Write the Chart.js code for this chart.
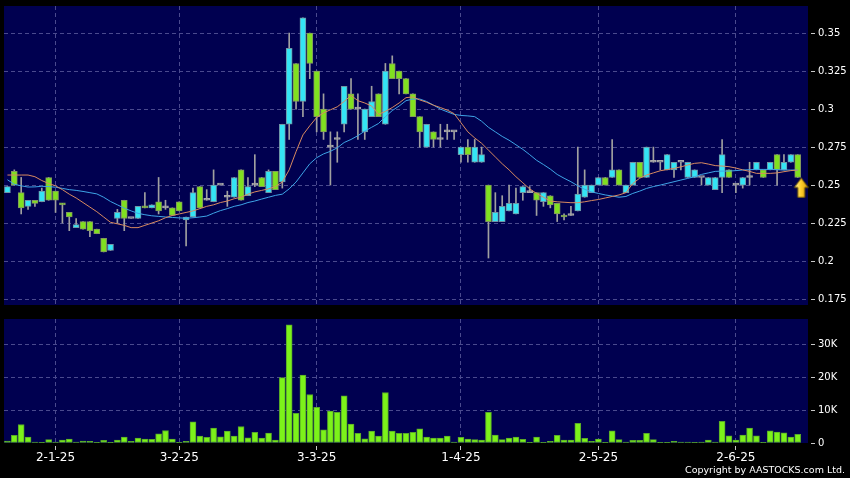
<!DOCTYPE html>
<html><head><meta charset="utf-8">
<script src="https://cdn.jsdelivr.net/npm/chart.js@4/dist/chart.umd.min.js"></script>
<style>
html,body{margin:0;padding:0;background:#000;width:850px;height:478px;overflow:hidden}
#wrap{position:relative;width:850px;height:478px;background:#000}
#p{position:absolute;left:0;top:0;width:850px;height:312px}
#v{position:absolute;left:0;top:312px;width:850px;height:166px}
#copy{position:absolute;right:5px;top:464px;color:#fff;font:9.5px "DejaVu Sans",sans-serif;line-height:12px;white-space:nowrap}
</style></head><body>
<div id="wrap">
<canvas id="p" width="850" height="312"></canvas>
<canvas id="v" width="850" height="166"></canvas>
<div id="copy">Copyright by AASTOCKS.com Ltd.</div>
</div>
<script>
// ---- data ----
const open  = [0.245,0.259,0.245,0.236,0.240,0.239,0.255,0.246,0.238,0.232,0.222,0.226,0.226,0.221,0.215,0.207,0.228,0.240,0.228,0.228,
0.236,0.235,0.239,0.235,0.235,0.239,0.227,0.229,0.249,0.240,0.239,0.250,0.242,0.242,0.260,0.243,0.250,0.255,0.245,0.259,
0.252,0.290,0.330,0.305,0.350,0.325,0.300,0.275,0.280,0.290,0.310,0.300,0.285,0.295,0.310,0.290,0.330,0.325,0.320,0.310,
0.295,0.275,0.285,0.280,0.285,0.285,0.270,0.275,0.265,0.265,0.250,0.226,0.226,0.233,0.231,0.245,0.245,0.245,0.239,0.243,
0.238,0.230,0.230,0.233,0.242,0.245,0.250,0.255,0.255,0.260,0.245,0.250,0.265,0.255,0.265,0.265,0.260,0.260,0.265,0.255,
0.255,0.255,0.250,0.247,0.255,0.260,0.250,0.250,0.255,0.260,0.260,0.260,0.270,0.260,0.265,0.270];
const high  = [0.249,0.260,0.255,0.240,0.240,0.248,0.255,0.246,0.238,0.232,0.228,0.226,0.226,0.221,0.215,0.211,0.234,0.240,0.228,0.236,
0.245,0.237,0.255,0.240,0.235,0.239,0.229,0.248,0.249,0.247,0.260,0.250,0.246,0.255,0.260,0.255,0.270,0.255,0.260,0.259,
0.290,0.350,0.330,0.360,0.350,0.325,0.310,0.285,0.285,0.315,0.320,0.310,0.300,0.315,0.310,0.330,0.335,0.325,0.320,0.310,
0.295,0.290,0.285,0.290,0.290,0.285,0.275,0.280,0.280,0.275,0.250,0.245,0.243,0.250,0.248,0.249,0.249,0.245,0.245,0.243,
0.238,0.231,0.236,0.275,0.260,0.250,0.255,0.255,0.280,0.260,0.250,0.265,0.265,0.275,0.275,0.265,0.270,0.265,0.265,0.265,
0.260,0.255,0.255,0.255,0.280,0.260,0.250,0.255,0.265,0.265,0.260,0.265,0.270,0.270,0.270,0.270];
const low   = [0.245,0.250,0.231,0.234,0.236,0.239,0.240,0.232,0.225,0.220,0.222,0.221,0.216,0.218,0.206,0.207,0.225,0.220,0.228,0.228,
0.235,0.235,0.231,0.234,0.230,0.233,0.210,0.229,0.235,0.240,0.239,0.250,0.236,0.242,0.240,0.243,0.249,0.249,0.245,0.247,
0.248,0.280,0.300,0.295,0.320,0.285,0.280,0.250,0.265,0.285,0.300,0.280,0.280,0.295,0.295,0.290,0.320,0.310,0.310,0.295,
0.275,0.275,0.275,0.275,0.280,0.280,0.265,0.265,0.265,0.265,0.202,0.226,0.226,0.233,0.231,0.240,0.245,0.230,0.236,0.235,
0.226,0.227,0.230,0.233,0.242,0.245,0.250,0.250,0.255,0.250,0.245,0.250,0.255,0.255,0.265,0.260,0.260,0.255,0.260,0.255,
0.255,0.250,0.250,0.247,0.245,0.255,0.245,0.248,0.250,0.260,0.255,0.260,0.250,0.260,0.265,0.255];
const close = [0.249,0.250,0.235,0.240,0.238,0.246,0.240,0.240,0.237,0.229,0.224,0.221,0.220,0.218,0.206,0.211,0.232,0.228,0.228,0.236,
0.235,0.237,0.233,0.235,0.230,0.233,0.229,0.245,0.235,0.240,0.250,0.250,0.242,0.255,0.240,0.249,0.250,0.249,0.259,0.247,
0.290,0.340,0.305,0.360,0.330,0.295,0.285,0.275,0.280,0.315,0.300,0.300,0.300,0.305,0.295,0.325,0.320,0.320,0.310,0.295,
0.285,0.290,0.280,0.280,0.285,0.285,0.275,0.270,0.275,0.270,0.226,0.232,0.236,0.238,0.238,0.249,0.245,0.240,0.245,0.237,
0.231,0.229,0.230,0.244,0.250,0.250,0.255,0.250,0.260,0.250,0.250,0.265,0.255,0.275,0.265,0.265,0.270,0.265,0.265,0.265,
0.260,0.255,0.255,0.255,0.270,0.255,0.250,0.255,0.255,0.265,0.255,0.265,0.260,0.265,0.270,0.255];
const maShort = [0.2566,0.2566,0.2566,0.2566,0.2555,0.2530,0.2510,0.2495,0.2470,0.2440,0.2415,0.2385,0.2355,0.2325,0.2290,0.2255,0.2245,0.2235,0.2220,0.2220,
0.2235,0.2250,0.2265,0.2285,0.2300,0.2310,0.2320,0.2330,0.2345,0.2360,0.2370,0.2385,0.2395,0.2410,0.2420,0.2440,0.2455,0.2465,0.2475,0.2490,
0.2520,0.2600,0.2720,0.2830,0.2890,0.2945,0.2975,0.2995,0.3015,0.3050,0.3090,0.3055,0.3040,0.3020,0.2965,0.2985,0.3010,0.3040,0.3075,0.3080,
0.3060,0.3045,0.3025,0.3010,0.2993,0.2970,0.2910,0.2850,0.2810,0.2775,0.2730,0.2685,0.2640,0.2600,0.2555,0.2515,0.2475,0.2445,0.2420,0.2395,
0.2390,0.2387,0.2384,0.2384,0.2390,0.2398,0.2405,0.2415,0.2425,0.2435,0.2450,0.2510,0.2545,0.2566,0.2580,0.2594,0.2602,0.2610,0.2620,0.2632,
0.2643,0.2647,0.2638,0.2628,0.2625,0.2621,0.2612,0.2600,0.2590,0.2577,0.2577,0.2577,0.2580,0.2588,0.2595,0.2599];
const maLong = [0.2535,0.2505,0.2495,0.2487,0.2488,0.2492,0.2490,0.2486,0.2478,0.2470,0.2465,0.2458,0.2450,0.2442,0.2420,0.2392,0.2370,0.2348,0.2330,0.2314,
0.2305,0.2298,0.2294,0.2290,0.2287,0.2284,0.2282,0.2285,0.2290,0.2296,0.2315,0.2332,0.2345,0.2360,0.2370,0.2385,0.2395,0.2408,0.2420,0.2432,
0.2440,0.2475,0.2520,0.2580,0.2640,0.2680,0.2705,0.2722,0.2745,0.2780,0.2800,0.2825,0.2855,0.2880,0.2905,0.2950,0.2990,0.3020,0.3055,0.3066,
0.3066,0.3050,0.3026,0.3000,0.2982,0.2965,0.2958,0.2955,0.2950,0.2920,0.2880,0.2850,0.2820,0.2795,0.2765,0.2735,0.2700,0.2663,0.2635,0.2605,
0.2570,0.2545,0.2522,0.2495,0.2472,0.2455,0.2445,0.2435,0.2428,0.2420,0.2425,0.2445,0.2460,0.2478,0.2490,0.2500,0.2511,0.2522,0.2533,0.2544,
0.2555,0.2570,0.2580,0.2590,0.2592,0.2592,0.2595,0.2599,0.2601,0.2603,0.2603,0.2603,0.2601,0.2599,0.2599,0.2599];
const volumeK = [0.6,2.3,5.6,1.8,0.3,0.2,1.0,0.3,0.9,1.2,0.3,0.6,0.5,0.2,0.8,0.05,0.9,1.8,0.5,1.5,
1.2,1.1,2.8,3.8,1.2,0.05,0.5,6.4,2.1,1.7,4.5,1.9,3.6,2.1,5.0,1.6,3.2,1.5,3.0,0.9,
19.8,35.8,9.0,20.6,14.7,10.8,4.0,9.7,9.3,14.3,5.7,2.9,1.3,3.6,2.1,15.3,3.6,2.9,2.9,3.2,
4.3,1.8,1.5,1.5,2.1,0.3,1.7,1.2,1.0,0.9,9.3,2.4,1.0,1.5,1.8,1.1,0.2,1.8,0.1,0.5,
2.3,0.9,0.9,6.0,1.4,0.5,1.2,0.1,3.7,1.0,0.3,0.8,0.8,2.9,1.0,0.1,0.1,0.5,0.3,0.3,
0.1,0.3,0.9,0.3,6.6,2.2,0.9,2.4,4.5,2.2,0.2,3.7,3.3,3.1,1.8,2.6];
const tickIndex = [7, 25, 45, 66, 86, 106];
const tickText  = ['2-1-25','3-2-25','3-3-25','1-4-25','2-5-25','2-6-25'];
const priceTicks = [0.175,0.2,0.225,0.25,0.275,0.3,0.325,0.35];
const volumeTicks = [0,10,20,30];
// one spare slot on the right (room for the marker arrow)
const categories = close.map((_, i) => String(i)).concat(['']);

// ---- styling ----
const NAVY = '#000050', GRID = '#4a4a8e', UP = '#34e4f4', DOWN = '#80e020', DOJI = '#a8a8a8';
const UPB = '#6f95a5', DOWNB = '#82985e';
const bg = {id:'bg', beforeDraw(c){const a=c.chartArea, x=c.ctx; x.save(); x.fillStyle=NAVY; x.fillRect(a.left,a.top,a.right-a.left,a.bottom-a.top); x.restore();}};

function dir(i){ return close[i] > open[i] ? 1 : (close[i] < open[i] ? -1 : 0); }

function arrowImage(){
  const c = document.createElement('canvas'); c.width = 22; c.height = 42;
  const g = c.getContext('2d');
  const cx = 14.5, tip = 21.5;
  g.beginPath();
  g.moveTo(cx, tip); g.lineTo(cx+7, tip+9.5); g.lineTo(cx+3.5, tip+9.5); g.lineTo(cx+3.5, tip+19.5);
  g.lineTo(cx-3.5, tip+19.5); g.lineTo(cx-3.5, tip+9.5); g.lineTo(cx-7, tip+9.5); g.closePath();
  const gr = g.createLinearGradient(cx-7,0,cx+7,0);
  gr.addColorStop(0,'#fff4a8'); gr.addColorStop(0.45,'#ffd030'); gr.addColorStop(1,'#d89a00');
  g.fillStyle = gr; g.fill(); g.lineWidth = 1; g.strokeStyle = '#6a5000'; g.stroke();
  return c;
}

const noPad = s => { s.paddingTop = 0; s.paddingBottom = 0; s.paddingLeft = 0; s.paddingRight = 0; };
const xGridColor = ctx => tickIndex.includes(ctx.index) ? GRID : 'transparent';
const tickFont = {family:'DejaVu Sans', size:10};

Chart.defaults.animation = false;

new Chart(document.getElementById('p'), {
  type: 'bar',
  data: {
    labels: categories,
    datasets: [
      {type:'line', data: [{x: categories[close.length-1], y: close[close.length-1]}], showLine:false,
       pointStyle: arrowImage(), pointRadius: 10, order: 0},
      {type:'line', data: maShort, borderColor:'#d88a60', borderWidth:1, pointRadius:0, tension:0, order: 1},
      {type:'line', data: maLong, borderColor:'#3ea4e6', borderWidth:1, pointRadius:0, tension:0, order: 2},
      {type:'bar', data: open.map((o,i)=>[o, close[i]]), grouped:false, barThickness:6, minBarLength:2,
       borderSkipped:false, borderWidth:1,
       backgroundColor: c => {const d=dir(c.dataIndex); return d>0?UP:(d<0?DOWN:DOJI);},
       borderColor: c => {const d=dir(c.dataIndex); return d>0?UPB:(d<0?DOWNB:DOJI);}, order: 3},
      {type:'bar', data: low.map((l,i)=>[l, high[i]]), grouped:false, barThickness:1, backgroundColor:'#a0a0a0',
       borderWidth:0, order: 4}
    ]
  },
  options: {
    responsive:false, animation:false,
    layout:{autoPadding:false, padding:{left:4, top:6, right:0, bottom:7}},
    plugins:{legend:{display:false}, tooltip:{enabled:false}},
    scales:{
      x:{type:'category', offset:true, afterFit: s => { noPad(s); s.height = 0; },
         ticks:{display:false, autoSkip:false},
         grid:{offset:false, drawTicks:false, color:xGridColor, lineWidth:1},
         border:{display:false, dash:[4,3]}},
      y:{position:'right', min:0.1711, max:0.3678,
         afterBuildTicks: s => { s.ticks = priceTicks.map(v => ({value:v})); },
         afterFit: s => { noPad(s); s.width = 42; },
         ticks:{color:'#ffffff', font:tickFont, padding:3, callback: v => String(+v.toFixed(3))},
         grid:{color:GRID, tickColor:'#c8c8c8', tickLength:7, tickBorderDash:[0,3,4,20]},
         border:{display:false, dash:[4,3]}}
    }
  },
  plugins:[bg]
});

new Chart(document.getElementById('v'), {
  type:'bar',
  data:{
    labels: categories,
    datasets:[{data: volumeK, barThickness:6, backgroundColor:'#7cf21a', borderColor:'#58a828', borderWidth:1, borderSkipped:false}]
  },
  options:{
    responsive:false, animation:false,
    layout:{autoPadding:false, padding:{left:4, top:7, right:0, bottom:0}},
    plugins:{legend:{display:false}, tooltip:{enabled:false}},
    scales:{
      x:{type:'category', offset:true, afterFit: s => { noPad(s); s.height = 35; },
         ticks:{autoSkip:false, maxRotation:0, color:'#ffffff', padding:1,
                font:{family:'DejaVu Sans', size:12},
                callback: (v, i) => { const k = tickIndex.indexOf(i); return k >= 0 ? tickText[k] : ''; }},
         grid:{offset:false, color:xGridColor, tickLength:7, tickColor: c => tickIndex.includes(c.index) ? '#c8c8c8' : 'transparent',
               tickBorderDash:[0,3,4,20]},
         border:{display:false, dash:[4,3]}},
      y:{position:'right', min:0, max:37.6,
         afterBuildTicks: s => { s.ticks = volumeTicks.map(v => ({value:v})); },
         afterFit: s => { noPad(s); s.width = 42; },
         ticks:{color:'#ffffff', font:tickFont, padding:3, callback: v => v === 0 ? '0' : v + 'K'},
         grid:{color: c => c.tick && c.tick.value === 0 ? 'transparent' : GRID, tickColor:'#c8c8c8', tickLength:7, tickBorderDash:[0,3,4,20]},
         border:{display:false, dash:[4,3]}}
    }
  },
  plugins:[bg]
});
</script>
</body></html>
